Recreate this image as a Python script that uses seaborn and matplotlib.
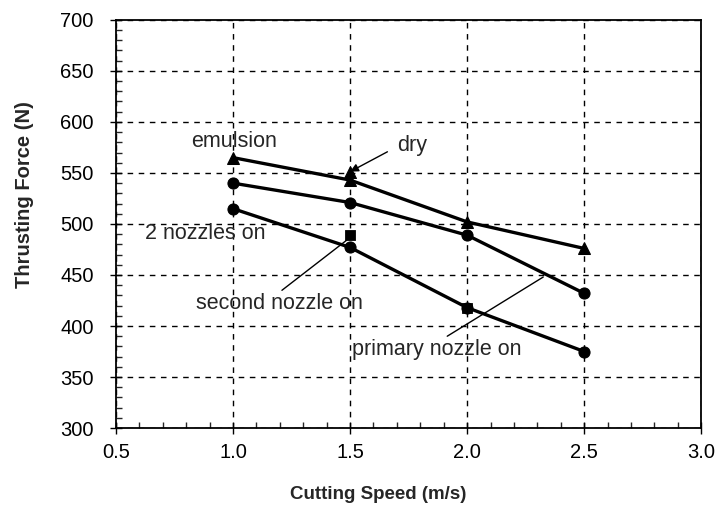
import numpy as np
import pandas as pd
import matplotlib
matplotlib.use("Agg")
import matplotlib.pyplot as plt
import seaborn as sns
from matplotlib.ticker import MultipleLocator

# ----------------- Data -----------------

speed = [1.0, 1.5, 2.0, 2.5]

emulsion = [565, 543, 502, 476]
primary_nozzle = [540, 521, 489, 432]
two_nozzles = [515, 477, 418, 375]

second_speed = [1.5, 2.0]
second_nozzle = [489, 418]

dry_speed = [1.5]
dry = [551]

lines = pd.DataFrame({
    "speed": speed * 3,
    "force": emulsion + primary_nozzle + two_nozzles,
    "series": ["emulsion"] * 4 + ["primary nozzle on"] * 4 + ["2 nozzles on"] * 4,
})

# ----------------- Style -----------------

sns.set_style("ticks")
plt.rcParams["font.family"] = ["Liberation Sans", "DejaVu Sans"]

fig = plt.figure(figsize=(7.2, 5.09), dpi=100)
ax = fig.add_axes([0.161, 0.159, 0.813, 0.802])

sns.lineplot(data=lines, x="speed", y="force", hue="series", style="series",
             markers={"emulsion": "^", "primary nozzle on": "o", "2 nozzles on": "o"},
             dashes=False, palette=["black"] * 3, linewidth=2.4, markersize=8,
             markeredgecolor="black", legend=False, ax=ax, zorder=3)

sns.scatterplot(x=second_speed, y=second_nozzle, marker="s", color="black",
                s=55, edgecolor="black", ax=ax, zorder=4)
sns.scatterplot(x=dry_speed, y=dry, marker="^", color="black",
                s=75, edgecolor="black", ax=ax, zorder=4)

# ----------------- Axes -----------------

ax.set_xlim(0.5, 3.0)
ax.set_ylim(300, 700)
ax.xaxis.set_major_locator(MultipleLocator(0.5))
ax.xaxis.set_minor_locator(MultipleLocator(0.1))
ax.yaxis.set_major_locator(MultipleLocator(50))
ax.yaxis.set_minor_locator(MultipleLocator(10))
ax.xaxis.set_major_formatter(plt.FuncFormatter(lambda v, p: f"{v:.1f}"))

ax.tick_params(which="major", direction="inout", length=8, width=1,
               labelsize=14.5, colors="black")
ax.tick_params(axis="x", which="major", pad=7)
ax.tick_params(axis="y", which="major", pad=12)
ax.tick_params(which="minor", direction="in", length=4, width=1)

for s in ax.spines.values():
    s.set_visible(True)
    s.set_color("black")
    s.set_linewidth(1.3)

ax.grid(which="major", color="black", linestyle=(0, (4, 4)), linewidth=1)

ax.set_xlabel("Cutting Speed (m/s)", fontsize=13.5, fontweight="bold")
ax.set_ylabel("Thrusting Force (N)", fontsize=14.5, fontweight="bold")
ax.xaxis.set_label_coords(0.448, -0.142)
ax.yaxis.set_label_coords(-0.14, 0.571)

# ----------------- Annotations -----------------

fs = 15.5
ax.text(1.004, 581, "emulsion", fontsize=fs, ha="center", va="center")
ax.text(1.765, 577, "dry", fontsize=fs, ha="center", va="center")
ax.annotate("", xy=(1.49, 550), xytext=(1.67, 572),
            arrowprops=dict(arrowstyle="-|>", color="black", lw=1, mutation_scale=12))
ax.text(0.88, 491, "2 nozzles on", fontsize=fs, ha="center", va="center")
ax.text(1.20, 422, "second nozzle on", fontsize=fs, ha="center", va="center")
ax.plot([1.209, 1.485], [435, 484], color="black", lw=1)
ax.text(1.872, 377, "primary nozzle on", fontsize=fs, ha="center", va="center")
ax.plot([1.915, 2.325], [390, 448], color="black", lw=1)

plt.savefig("out.png", dpi=100)
